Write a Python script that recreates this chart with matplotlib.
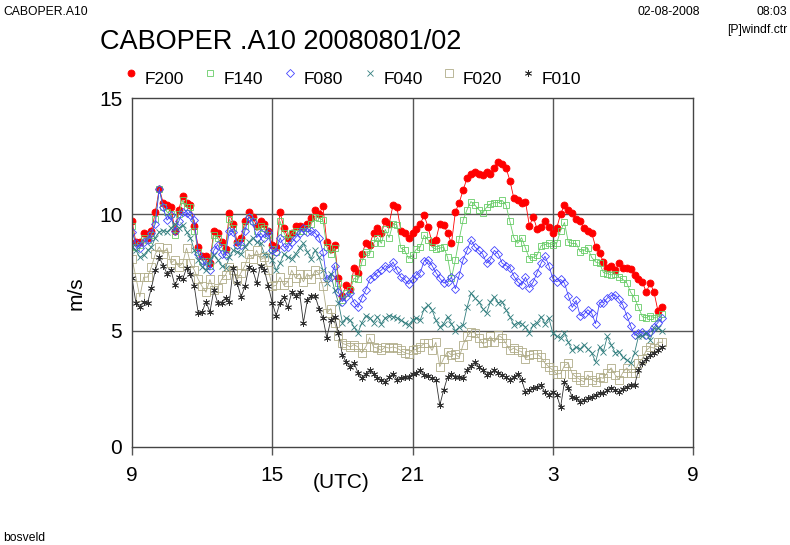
import numpy as np
import matplotlib
matplotlib.use("Agg")
import matplotlib.pyplot as plt
from matplotlib.lines import Line2D

plt.rcParams['font.family'] = ['Liberation Sans', 'DejaVu Sans']

# wind speed (m/s), 10-minute values starting 9 UTC
F200 = [9.7, 8.8, 8.8, 9.2, 9.0, 9.3, 10.1, 11.1, 10.5, 10.4,
        10.3, 9.3, 10.2, 10.8, 10.5, 10.4, 9.5, 8.6, 8.2, 8.2,
        7.9, 9.3, 9.2, 8.8, 8.5, 10.05, 9.6, 8.8, 9.0, 9.7,
        10.1, 9.9, 9.5, 9.7, 9.6, 9.3, 8.7, 8.6, 10.1, 9.4,
        9.0, 9.2, 9.5, 9.5, 9.45, 9.6, 9.85, 10.2, 10.0, 10.35,
        8.8, 8.5, 8.7, 7.25, 6.5, 6.95, 6.8, 7.7, 7.5, 8.3,
        8.75, 8.7, 9.2, 9.4, 9.2, 9.7, 9.6, 10.4, 10.3, 9.3,
        9.2, 9.0, 9.2, 9.35, 9.6, 9.95, 9.45, 8.8, 8.9, 9.6,
        9.55, 9.2, 8.75, 10.1, 10.5, 11.05, 11.55, 11.75, 11.8, 11.75,
        11.7, 11.8, 11.75, 12.0, 12.25, 12.15, 12.0, 11.45, 10.7, 10.6,
        10.5, 10.55, 9.5, 9.9, 9.35, 9.45, 9.7, 9.45, 9.2, 9.4,
        10.0, 10.4, 10.2, 10.05, 9.8, 9.7, 9.4, 9.3, 9.2, 8.6,
        8.35, 7.95, 7.7, 7.8, 7.6, 7.9, 7.7, 7.7, 7.65, 7.4,
        7.2, 7.1, 6.65, 7.05, 6.65, 5.85, 6.0]

F140 = [9.5, 8.6, 8.7, 9.0, 8.9, 9.1, 9.8, 11.1, 10.3, 10.1,
        10.0, 9.1, 10.0, 10.6, 10.3, 10.3, 9.3, 8.4, 8.0, 8.0,
        7.8, 9.1, 9.0, 8.6, 8.3, 9.8, 9.4, 8.7, 8.8, 9.5,
        9.9, 9.7, 9.3, 9.5, 9.4, 9.1, 8.5, 8.4, 9.7, 9.2,
        8.9, 9.2, 9.3, 9.3, 9.3, 9.4, 9.6,
        9.9, 9.85, 9.75, 8.6, 8.3, 8.55, 7.05, 6.3, 6.6, 6.75,
        7.25, 7.2, 7.95, 8.4, 8.3, 8.75, 9.0, 8.75, 9.35, 9.0,
        9.6, 9.55, 8.55, 8.45, 8.1, 8.25, 8.5, 8.6,
        9.1, 8.9, 8.6, 8.5, 8.55, 8.6, 8.15, 7.25, 8.05, 8.95,
        9.75, 10.2, 10.55, 10.4, 10.2, 10.05, 10.3, 10.45, 10.5, 10.5,
        10.6, 10.4, 9.7, 9.0, 8.75, 9.0, 8.55, 8.1, 8.15, 8.25,
        8.65, 8.7, 8.75,
        8.7, 8.75, 9.3, 9.65, 8.8, 8.75, 8.75, 8.4, 8.45, 8.55,
        8.15, 7.95, 7.9, 7.5, 7.45, 7.4, 7.45, 7.3, 7.2, 7.05,
        6.65, 6.4, 6.0, 5.6, 5.55, 5.65, 5.55, 5.6, 5.7]

F080 = [9.25, 8.75, 8.55, 8.8, 8.9, 9.2, 9.6, 11.1, 10.3, 9.75,
        9.95, 9.3, 9.7, 10.1, 10.05, 9.95, 9.75, 8.3, 8.05, 7.8,
        7.6, 8.45, 8.7,
        8.3, 8.25, 9.3, 9.25, 8.7, 8.7, 9.3, 9.9, 9.65, 9.0,
        9.2, 9.0, 9.25, 8.45, 8.4, 9.0, 8.6, 8.6, 8.8, 9.0,
        9.2, 9.4, 9.25, 9.3,
        9.2, 9.0, 8.4, 7.2, 7.3, 7.8, 6.65, 6.25, 6.45, 6.6,
        6.2, 6.0, 6.4, 6.75, 7.2, 7.35, 7.5, 7.6, 7.8, 7.7,
        7.95, 7.6, 7.3, 7.2, 7.0, 7.2, 7.4, 7.5, 8.0,
        8.05, 7.8, 7.5, 7.25, 7.05, 7.1, 7.3, 6.8, 7.4, 8.05,
        8.45, 8.9, 8.6, 8.45, 8.3, 7.9, 8.05, 8.45, 8.3, 7.9,
        7.8, 7.7, 7.35, 7.1, 6.95, 7.3, 6.85, 7.1, 7.5, 7.9,
        8.2, 7.8,
        7.25, 7.1, 7.2, 7.05, 6.5, 6.0, 6.3, 5.65, 5.7, 5.9,
        5.75, 5.3, 6.2, 6.2, 6.4, 6.5, 6.55, 6.35, 6.1, 5.65,
        5.2, 4.8, 4.9, 4.95, 4.8, 4.95, 5.15, 5.35, 5.55]

F040 = [8.6, 8.45, 8.15, 8.25, 8.45, 8.6, 9.0, 9.25, 9.3, 9.25,
        9.4, 9.6, 9.4, 9.55, 9.25, 9.0, 8.45, 8.05, 7.75, 7.6,
        8.05, 8.25,
        8.05, 7.8, 7.7, 8.15, 8.45, 8.4, 8.3, 8.6, 8.8, 9.0,
        8.8, 8.75, 8.3, 8.25, 8.05, 7.6, 7.9, 8.3, 8.15, 8.1,
        8.3, 8.55, 8.75, 8.4, 8.1,
        8.45, 8.15, 7.6, 7.05, 7.45, 6.75, 6.2, 5.35, 5.55, 5.45,
        5.15, 4.9, 5.35, 5.65, 5.55, 5.35, 5.6, 5.3, 5.55, 5.65,
        5.6, 5.55, 5.45, 5.35, 5.25, 5.45, 5.55, 5.45, 5.95,
        6.1, 5.9, 5.45, 5.15, 5.3, 5.6, 5.3, 5.0, 5.15, 5.25,
        6.0, 6.6, 6.4, 6.25, 5.95, 5.75, 6.25, 6.45, 6.2, 6.25,
        5.9, 5.6, 5.25, 5.35, 5.3, 5.15, 4.9, 5.25, 5.35, 5.6,
        5.3, 5.55,
        4.9, 4.75, 4.7, 4.9, 4.5, 4.15, 4.3, 4.2, 4.4, 4.2,
        4.05, 3.65, 4.3, 4.1, 4.75, 4.4, 4.05, 4.1, 3.85, 3.75,
        3.6, 4.05, 4.75, 4.75, 4.9, 4.6, 5.1, 5.1, 5.0]

F020 = [8.1, 7.3, 6.45, 7.3, 7.3, 7.75, 8.3, 8.6, 8.3, 8.55,
        7.9, 8.05, 7.75, 7.9, 8.55, 7.9, 7.6, 7.2, 6.9, 6.65,
        7.2, 6.75,
        6.85, 7.2, 7.4, 7.75, 7.6, 7.2, 7.5, 7.8, 8.3, 8.1,
        8.45, 8.05, 8.15, 7.6, 6.9, 6.95, 7.3, 6.95, 7.1, 7.6,
        7.25, 7.45, 7.1, 7.45, 7.2,
        7.6, 7.45, 6.9, 5.75, 5.95, 5.35, 4.75, 4.45, 4.4, 4.3,
        4.4, 4.3, 4.05, 4.3, 4.7, 4.3, 4.25, 4.15, 4.3, 4.25,
        4.3, 4.25, 4.15, 4.05, 4.0, 4.15, 4.2, 4.3, 4.45,
        4.45, 4.15, 4.5, 3.45, 3.8, 4.1, 3.95, 4.0, 3.85, 4.4,
        4.75, 4.95, 4.9, 4.7, 4.45, 4.5, 4.75, 4.5, 4.8, 4.7,
        4.45, 4.15, 4.25, 4.15, 4.1, 3.8, 3.95, 4.0, 4.0, 3.85,
        3.6, 3.45,
        3.3, 3.15, 3.15, 3.5, 3.6, 3.15, 3.0, 2.9, 2.8, 3.1,
        2.9, 2.8, 3.0, 2.95, 3.2, 3.4, 3.1, 2.9, 3.2, 3.4,
        3.2, 3.2, 3.6, 3.8, 4.15, 4.3, 4.25, 4.5, 4.5]

F010 = [7.25, 6.2, 6.0, 6.25, 6.2, 6.85, 7.6, 8.15, 7.8, 7.45,
        7.6, 6.95, 7.3, 7.2, 7.7, 7.45, 6.9, 5.75, 5.8, 6.25,
        5.8, 6.75, 6.2,
        6.2, 6.4, 6.25, 7.7, 7.05, 6.45, 6.9, 7.75, 7.6, 7.05,
        7.8, 7.6, 6.9, 6.2, 5.65, 6.2, 6.45, 6.0, 6.65, 6.5,
        6.65, 5.35, 6.3, 6.5,
        6.5, 5.95, 5.55, 4.7, 5.45, 5.6, 4.9, 3.95, 3.65, 3.45,
        3.6, 3.2, 2.95, 3.15, 3.3, 3.15, 2.95, 2.9, 2.8, 3.0,
        3.15, 2.9, 2.95, 3.0, 3.0, 3.15, 3.2, 3.3, 3.1,
        3.05, 2.95, 2.9, 1.8, 2.45, 3.0, 3.15, 3.0, 3.0, 2.95,
        3.3, 3.5, 3.65, 3.45, 3.3, 3.1, 3.2, 3.3, 3.2, 3.1,
        3.0, 2.9, 3.0, 3.15, 2.9, 2.35, 2.45, 2.55, 2.6, 2.65,
        2.35, 2.25,
        2.35, 2.25, 1.7, 2.8, 2.55, 2.15, 2.1, 1.95, 2.0, 2.1,
        2.15, 2.25, 2.3, 2.3, 2.45, 2.55, 2.45, 2.35, 2.5, 2.6,
        2.65, 2.65, 3.3, 3.6, 3.8, 3.95, 4.05, 4.15, 4.3]

names = ["F200", "F140", "F080", "F040", "F020", "F010"]
series = [F200, F140, F080, F040, F020, F010]
xticks = [9, 15, 21, 27, 33]
xlabels = ["9", "15", "21", "3", "9"]

# style per series: color, marker, size, filled
styles = [
    ("#ff0000", "o", 5, True),
    ("#66cc66", "s", 4.5, False),
    ("#4444ff", "D", 4, False),
    ("#337f7f", "x", 4.5, False),
    ("#b0ac88", "s", 6, False),
    ("#303030", (6, 2, 0), 5, False),
]

W, H = 790, 545
fig = plt.figure(figsize=(W / 100, H / 100), dpi=100)
ax = fig.add_axes([132 / W, 1 - 447 / H, (693 - 132) / W, (447 - 98) / H])

for vals, (col, mk, ms, filled) in zip(series, styles):
    t = 9 + np.arange(len(vals)) / 6.0
    ax.plot(t, vals, color=col, lw=0.6, marker=mk, ms=ms,
            markerfacecolor=col if filled else "none",
            markeredgecolor=col, markeredgewidth=0.6)

ax.set_xlim(9, 33)
ax.set_ylim(0, 15)
ax.set_xticks(xticks)
ax.set_xticklabels(xlabels)
ax.set_yticks([0, 5, 10, 15])
for v in [15, 21, 27]:
    ax.axvline(v, color="#555555", lw=1, zorder=0)
for v in [5, 10]:
    ax.axhline(v, color="#555555", lw=1, zorder=0)
for s in ax.spines.values():
    s.set_color("#444444")
    s.set_linewidth(1)
ax.tick_params(axis="x", length=6, width=1, color="#555555", pad=8, labelsize=15)
ax.tick_params(axis="y", length=0, pad=7, labelsize=15)

fig.text(341 / W, 1 - 483 / H, "(UTC)", ha="center", va="center", fontsize=15)
fig.text(76 / W, 1 - 293 / H, "m/s", ha="center", va="center", rotation=90, fontsize=15)

fig.text(100 / W, 1 - 49 / H, "CABOPER .A10 20080801/02", fontsize=19.5, va="baseline")
fig.text(3 / W, 1 - 15 / H, "CABOPER.A10", fontsize=8.7, va="baseline")
fig.text(637 / W, 1 - 15 / H, "02-08-2008", fontsize=8.7, va="baseline")
fig.text(787 / W, 1 - 15 / H, "08:03", fontsize=8.7, va="baseline", ha="right")
fig.text(787 / W, 1 - 33 / H, "[P]windf.ctr", fontsize=8.7, va="baseline", ha="right")
fig.text(3 / W, 1 - 541 / H, "bosveld", fontsize=8.7, va="baseline")

# legend row
mk_x = [131, 210, 290, 370, 449, 528]
for name, (col, mk, ms, filled), mx in zip(names, styles, mk_x):
    fig.add_artist(Line2D([mx / W], [1 - 73 / H], marker=mk, ms=ms, lw=0,
                          color=col, markerfacecolor=col if filled else "none",
                          markeredgewidth=0.6, transform=fig.transFigure))
    fig.text((mx + 14) / W, 1 - 84 / H, name, fontsize=12.5, va="baseline")

fig.savefig("out.png", dpi=100)
